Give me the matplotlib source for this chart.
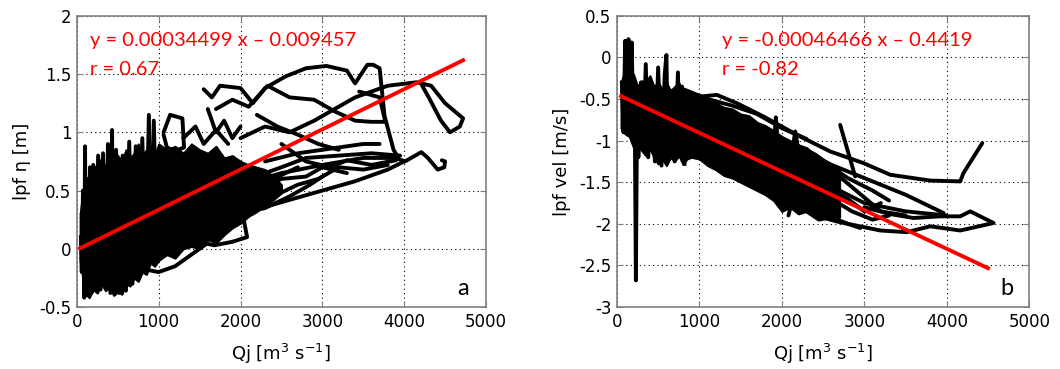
import numpy as np
import matplotlib.pyplot as plt

# ---------- panel a : lpf eta vs Qj ----------
# dense core of the cloud (upper / lower edge)
a_core_q = [40, 100, 150, 200, 250, 300, 350, 400, 450, 500, 550, 600, 650, 700, 750, 800, 850, 900, 950, 1000,
            1100, 1200, 1300, 1400, 1500, 1600, 1700, 1800, 1900, 2000, 2100, 2200, 2300, 2400, 2500]
a_core_up = [0.3, 0.62, 0.55, 0.72, 0.68, 0.78, 0.7, 0.82, 0.72, 0.8, 0.75, 0.85, 0.78, 0.82, 0.9, 0.8, 0.85, 0.88, 0.8, 0.9,
             0.85, 0.88, 0.82, 0.9, 0.85, 0.82, 0.88, 0.78, 0.8, 0.75, 0.72, 0.7, 0.68, 0.62, 0.55]
a_core_lo = [-0.1, -0.38, -0.42, -0.35, -0.38, -0.3, -0.36, -0.33, -0.4, -0.37, -0.39, -0.3, -0.32, -0.25, -0.28, -0.2, -0.22, -0.12, -0.15, -0.1,
             -0.05, -0.08, 0.0, 0.02, 0.0, 0.08, 0.05, 0.12, 0.18, 0.22, 0.28, 0.32, 0.38, 0.42, 0.48]

# spiky low-discharge part
a_spk_q = [50, 60, 75, 90, 100, 110, 125, 140, 160, 180, 200, 230, 260, 290, 320, 350, 380, 410, 430, 450,
           480, 520, 560, 600, 640, 680, 720, 760, 800, 840, 880, 910, 940, 980]
a_spk_y = [0.1, -0.2, 0.5, -0.42, 0.88, -0.4, 0.6, -0.3, 0.7, -0.38, 0.72, -0.3, 0.8, -0.35, 0.82, -0.3, 0.9, -0.38, 1.02, -0.35,
           0.85, -0.38, 0.8, -0.36, 0.92, -0.3, 0.88, -0.2, 0.95, -0.15, 1.15, -0.1, 1.1, 0.0]

# individual event trajectories
a_tracks = [
    ([1550, 1650, 1750, 2000, 2150, 2300, 2550, 2800, 3050, 3300, 3400, 3550, 3620, 3700, 3760, 3870, 3930],
     [1.37, 1.3, 1.40, 1.38, 1.25, 1.38, 1.48, 1.55, 1.57, 1.53, 1.42, 1.58, 1.58, 1.55, 1.14, 0.85, 0.78]),
    ([2000, 2300, 2600, 2900, 3150, 3400, 3800, 4150, 4330, 4500, 4720, 4680, 4560, 4450, 4300, 4220],
     [0.95, 1.05, 1.0, 1.1, 1.2, 1.3, 1.40, 1.43, 1.40, 1.25, 1.12, 1.05, 1.0, 1.1, 1.3, 1.40]),
    ([1700, 1900, 2100, 2330, 2600, 2900, 3150, 3400, 3600, 3770, 3700, 3450],
     [1.2, 1.28, 1.22, 1.40, 1.30, 1.28, 1.18, 1.10, 1.09, 1.09, 1.3, 1.35]),
    ([2000, 2500, 3000, 3500, 3900, 4010, 4210, 4290, 4410, 4490, 4500, 4460],
     [0.55, 0.65, 0.72, 0.78, 0.78, 0.75, 0.83, 0.78, 0.68, 0.70, 0.75, 0.76]),
    ([2000, 2500, 3000, 3400, 3800, 4000],
     [0.3, 0.4, 0.50, 0.58, 0.68, 0.75]),
    ([2300, 2700, 3100, 3500, 3700],
     [0.75, 0.82, 0.86, 0.9, 0.9]),
    ([2100, 2500, 2800, 3200, 3600, 3950],
     [0.6, 0.7, 0.78, 0.8, 0.82, 0.8]),
    ([2200, 2450, 2700, 2950, 3200],
     [1.15, 1.05, 0.98, 0.9, 0.85]),
    ([2400, 2700, 2950, 3200, 3500, 3800],
     [0.45, 0.55, 0.6, 0.7, 0.68, 0.72]),
    ([2500, 2800, 3100, 3300, 3600, 3900],
     [0.9, 0.75, 0.7, 0.76, 0.72, 0.76]),
    ([2200, 2500, 2800, 3000, 3300],
     [0.5, 0.6, 0.62, 0.7, 0.65]),
    ([1060, 1140, 1290, 1310, 1200, 1100, 1060],
     [1.0, 1.15, 1.12, 0.87, 0.84, 0.87, 0.98]),
    ([750, 850, 1000, 1200, 1400, 1600],
     [-0.08, -0.18, -0.2, -0.15, -0.05, 0.05]),
    ([1400, 1680, 1900, 2080, 2040, 1800],
     [0.07, 0.03, 0.06, 0.1, 0.25, 0.2]),
    ([1500, 1800, 2100, 2400, 2700],
     [0.45, 0.5, 0.58, 0.6, 0.7]),
    ([1700, 2000, 2300, 2600, 2850, 3000],
     [0.25, 0.3, 0.35, 0.45, 0.55, 0.62]),
    ([1600, 1700, 1800, 1900, 2000],
     [1.2, 1.0, 1.1, 0.95, 1.05]),
    ([1300, 1450, 1550, 1700, 1850],
     [0.95, 1.05, 0.9, 1.02, 0.9]),
]
a_fit = (0.00034499, -0.009457)
a_fit_x = [40, 4720]

# ---------- panel b : lpf vel vs Qj ----------
b_core_q = [50, 100, 150, 200, 250, 300, 350, 400, 450, 500, 550, 600, 650, 700, 750, 800, 850, 900, 1000,
            1100, 1200, 1300, 1400, 1500, 1600, 1700, 1800, 1900, 2000, 2100, 2200, 2300, 2400, 2500, 2600, 2700]
b_core_up = [-0.3, -0.15, -0.25, -0.2, -0.35, -0.28, -0.3, -0.22, -0.35, -0.3, -0.38, -0.3, -0.4, -0.35, -0.3, -0.42, -0.4, -0.45, -0.48,
             -0.5, -0.55, -0.6, -0.62, -0.68, -0.7, -0.78, -0.82, -0.88, -0.95, -1.0, -1.05, -1.1, -1.15, -1.22, -1.28, -1.35]
b_core_lo = [-0.85, -0.92, -0.95, -1.08, -1.05, -1.12, -1.18, -1.1, -1.2, -1.28, -1.22, -1.3, -1.2, -1.25, -1.18, -1.28, -1.22, -1.2, -1.22,
             -1.3, -1.35, -1.42, -1.45, -1.5, -1.55, -1.6, -1.65, -1.72, -1.85, -1.8, -1.88, -1.85, -1.92, -1.9, -1.95, -1.92]

b_spk_q = [60, 80, 100, 120, 140, 160, 180, 200, 215, 230, 245, 260, 290, 320, 350, 380, 420, 460, 500, 540,
           580, 600, 620, 660, 700, 740, 760, 790, 820]
b_spk_y = [-0.3, -0.9, 0.2, -0.8, 0.22, -0.9, 0.18, -1.0, -0.5, -2.68, -0.6, -1.2, -0.3, -1.1, -0.08, -1.2, -0.3, -1.25, -0.12, -1.3,
           -0.2, 0.03, -1.2, -0.4, -1.25, -0.18, -1.0, -0.35, -1.28]

b_tracks = [
    ([1010, 1212, 1455, 1778, 2182, 2586, 2990, 3313, 3800, 4163, 4202, 4430],
     [-0.47, -0.45, -0.55, -0.71, -0.93, -1.13, -1.27, -1.41, -1.48, -1.49, -1.39, -1.03]),
    ([1100, 1500, 2000, 2500, 3000, 3500, 3960],
     [-0.6, -0.75, -1.0, -1.25, -1.45, -1.65, -1.87]),
    ([2400, 2700, 2949, 3192, 3515, 3799, 4163, 4567, 4284, 4163, 3920, 3596, 3300, 3000],
     [-1.9, -1.98, -2.03, -2.08, -2.10, -2.03, -2.08, -1.99, -1.85, -1.91, -1.91, -1.93, -1.88, -1.8]),
    ([2707, 2889],
     [-0.81, -1.43]),
    ([2000, 2500, 3000, 3500, 4000],
     [-1.2, -1.5, -1.75, -1.85, -1.9]),
    ([2000, 2300, 2600, 2900, 3200, 3500],
     [-1.0, -1.1, -1.35, -1.6, -1.85, -1.9]),
    ([2200, 2500, 2800, 3000, 3200],
     [-1.3, -1.55, -1.7, -1.85, -1.75]),
    ([1900, 1927, 1950],
     [-1.1, -0.72, -1.0]),
    ([2130, 2162, 2190],
     [-1.1, -0.89, -1.05]),
    ([2200, 2130, 2080],
     [-1.4, -1.7, -1.9]),
    ([2300, 2450, 2600, 2800, 2950],
     [-1.85, -1.95, -1.92, -2.0, -2.05]),
    ([1500, 1800, 2100, 2400],
     [-1.35, -1.5, -1.6, -1.7]),
    ([800, 1100, 1400, 1700, 2000, 2300],
     [-0.38, -0.5, -0.58, -0.68, -0.85, -0.98]),
    ([2500, 2800, 3100, 3300],
     [-1.25, -1.45, -1.6, -1.72]),
    ([2600, 2850, 3100, 3300],
     [-1.7, -1.85, -1.95, -1.9]),
]
b_fit = (-0.00046466, -0.4419)
b_fit_x = [50, 4500]

fig = plt.figure(figsize=(10.6, 3.69), dpi=100)
ax1 = fig.add_axes([0.0725, 0.168, 0.386, 0.789])
ax2 = fig.add_axes([0.582, 0.168, 0.389, 0.789])

red_font = 'Lato'
lw = 2.8
fs = 12
lab_fs = 13


def draw_panel(ax, core_q, core_up, core_lo, spk_q, spk_y, tracks, fit, fit_x):
    ax.fill_between(core_q, core_lo, core_up, color='black', lw=1.5, edgecolor='black', zorder=2)
    ax.plot(spk_q, spk_y, color='black', lw=lw, zorder=2)
    for q, y in tracks:
        ax.plot(q, y, color='black', lw=lw, solid_joinstyle='round', solid_capstyle='round', zorder=2)
    fx = np.array(fit_x)
    ax.plot(fx, fit[0] * fx + fit[1], color='red', lw=2.8, zorder=3)
    ax.set_xlim(0, 5000)
    ax.grid(True, color='black', linestyle=(0, (1, 3)), lw=0.8)
    ax.tick_params(direction='in', length=4, color='#808080', labelsize=fs,
                   top=True, right=True, pad=4)
    for s in ax.spines.values():
        s.set_color('#808080')
        s.set_linewidth(1.2)


draw_panel(ax1, a_core_q, a_core_up, a_core_lo, a_spk_q, a_spk_y, a_tracks, a_fit, a_fit_x)
ax1.set_ylim(-0.5, 2)
ax1.set_yticks([-0.5, 0, 0.5, 1, 1.5, 2])
ax1.set_yticklabels(['-0.5', '0', '0.5', '1', '1.5', '2'])
ax1.set_ylabel('lpf η [m]', fontsize=lab_fs, labelpad=6)
ax1.set_xlabel('Qj [m$^3$ s$^{-1}$]', fontsize=lab_fs, labelpad=8)
ax1.text(0.032, 0.915, 'y = 0.00034499 x – 0.009457', transform=ax1.transAxes, color='red',
         fontsize=14.5, family=red_font, va='center', ha='left')
ax1.text(0.032, 0.815, 'r = 0.67', transform=ax1.transAxes, color='red',
         fontsize=14.5, family=red_font, va='center', ha='left')
ax1.text(0.945, 0.065, 'a', transform=ax1.transAxes, fontsize=17, family=red_font, ha='center', va='center')

draw_panel(ax2, b_core_q, b_core_up, b_core_lo, b_spk_q, b_spk_y, b_tracks, b_fit, b_fit_x)
ax2.set_ylim(-3, 0.5)
ax2.set_yticks([-3, -2.5, -2, -1.5, -1, -0.5, 0, 0.5])
ax2.set_yticklabels(['-3', '-2.5', '-2', '-1.5', '-1', '-0.5', '0', '0.5'])
ax2.set_ylabel('lpf vel [m/s]', fontsize=lab_fs, labelpad=6)
ax2.set_xlabel('Qj [m$^3$ s$^{-1}$]', fontsize=lab_fs, labelpad=8)
ax2.text(0.255, 0.915, 'y = -0.00046466 x – 0.4419', transform=ax2.transAxes, color='red',
         fontsize=14.5, family=red_font, va='center', ha='left')
ax2.text(0.255, 0.815, 'r = -0.82', transform=ax2.transAxes, color='red',
         fontsize=14.5, family=red_font, va='center', ha='left')
ax2.text(0.945, 0.065, 'b', transform=ax2.transAxes, fontsize=17, family=red_font, ha='center', va='center')

for ax in (ax1, ax2):
    ax.set_xticks([0, 1000, 2000, 3000, 4000, 5000])

fig.savefig('out.png', dpi=100)
